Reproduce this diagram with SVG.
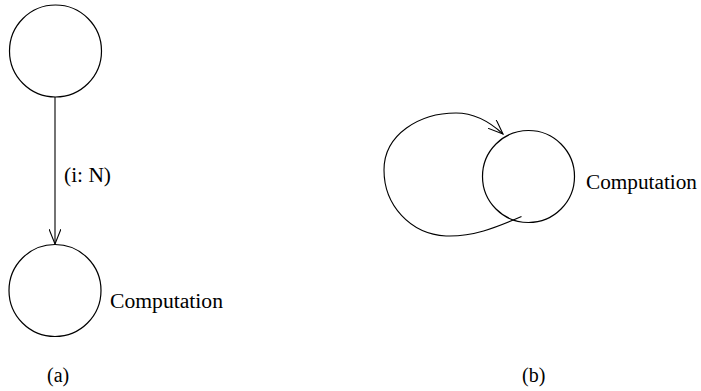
<svg xmlns="http://www.w3.org/2000/svg" width="701" height="391" viewBox="0 0 701 391">
<defs>
<style>
.n{fill:none;stroke:#000;stroke-width:1.2}
.e{fill:none;stroke:#000;stroke-width:1.1}
text{font-family:"Liberation Serif","Times New Roman",serif;font-size:20px;fill:#000}
</style>
<marker id="ah" markerWidth="16" markerHeight="12" refX="15" refY="6" orient="auto" markerUnits="userSpaceOnUse">
<path d="M0,0 L15,6 L0,12" fill="none" stroke="#000" stroke-width="1.1"/>
</marker>
</defs>
<rect width="701" height="391" fill="#fff"/>
<g id="top">
<circle class="n" cx="55.5" cy="51" r="46"/>
</g>
<g id="computation-a">
<circle class="n" cx="55" cy="290.5" r="46"/>
<text x="110" y="308" textLength="113" lengthAdjust="spacingAndGlyphs">Computation</text>
</g>
<g id="computation-b">
<circle class="n" cx="528.5" cy="176.5" r="46"/>
<text x="586" y="189" textLength="111" lengthAdjust="spacingAndGlyphs">Computation</text>
</g>
<g id="connectors">
<line class="e" x1="55" y1="97" x2="55" y2="244" marker-end="url(#ah)"/>
<text x="64" y="182" textLength="47" lengthAdjust="spacingAndGlyphs">(i: N)</text>
<path class="e" d="M521.5,216.5 C495,228 472,237 446,236 C410,234 384,205 384,170 C384,134 420,113 456,113 C475,113 490,122 503,134" marker-end="url(#ah)"/>
</g>
<text x="47" y="382">(a)</text>
<text x="522" y="382">(b)</text>
</svg>
